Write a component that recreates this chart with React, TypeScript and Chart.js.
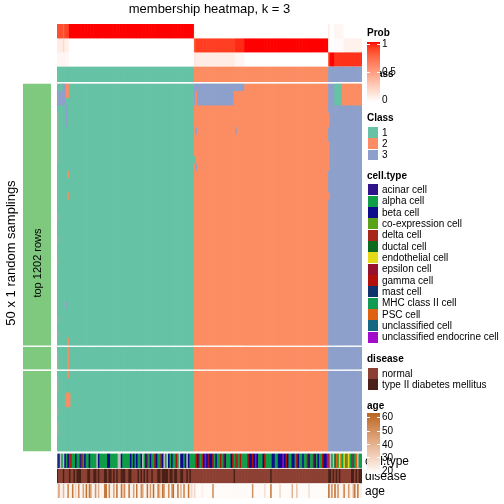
import React, { useEffect, useRef } from "react";
import { Chart, registerables } from "chart.js";

Chart.register(...registerables);

// ---------------- data ----------------
const N_COLS = 200;

const CLASS_NAMES = ["1", "2", "3"];
const CLASS_COLORS = ["#66C2A5", "#FC8D62", "#8DA0CB"];
// consensus class per run of columns: [firstCol, lastCol, class]
const CLASS_RUNS: number[][] = [
  [0, 89, 1],
  [90, 177, 2],
  [178, 199, 3],
];
// membership probabilities per run of columns: [firstCol, lastCol, p1, p2, p3]
const PROB_RUNS: number[][] = [
  [0, 3, 0.85, 0.1, 0.05],
  [4, 4, 0.75, 0.2, 0.05],
  [5, 7, 0.88, 0.08, 0.04],
  [8, 89, 1, 0, 0],
  [90, 90, 0.06, 0.8, 0.14],
  [91, 116, 0, 0.9, 0.1],
  [117, 122, 0, 0.95, 0.05],
  [123, 177, 0, 1, 0],
  [178, 178, 0.1, 0.05, 0.85],
  [179, 181, 0, 0, 1],
  [182, 187, 0.05, 0.02, 0.93],
  [188, 199, 0, 0.07, 0.93],
];
const PROB_TICKS = ["1", "0.5", "0"];

const N_SAMPLINGS = 50;
const SLICE_SIZES = [36, 3, 11];
// class changes of single samplings: [firstRow, lastRow, firstCol, lastCol, class]
const MEMBERSHIP_CHANGES: number[][] = [
  [0, 2, 0, 5, 3],
  [0, 0, 1, 3, 1],
  [0, 1, 6, 7, 2],
  [3, 5, 6, 6, 3],
  [4, 10, 0, 0, 2],
  [12, 12, 7, 7, 2],
  [15, 15, 7, 7, 2],
  [18, 18, 0, 0, 2],
  [21, 21, 0, 0, 2],
  [24, 24, 0, 0, 2],
  [30, 30, 6, 6, 3],
  [32, 32, 0, 0, 2],
  [34, 34, 0, 0, 2],
  [35, 39, 7, 7, 2],
  [37, 38, 0, 0, 2],
  [40, 41, 0, 0, 2],
  [42, 43, 6, 8, 2],
  [44, 44, 0, 0, 2],
  [46, 47, 0, 0, 2],
  [0, 2, 90, 115, 3],
  [0, 0, 116, 122, 3],
  [1, 2, 91, 91, 2],
  [6, 6, 91, 91, 3],
  [6, 6, 117, 117, 3],
  [10, 10, 90, 90, 1],
  [11, 11, 91, 91, 3],
  [0, 2, 182, 186, 1],
  [0, 2, 187, 199, 2],
  [4, 5, 178, 178, 2],
  [8, 11, 178, 178, 2],
  [15, 15, 178, 178, 2],
];

const CELL_TYPE_NAMES = [
  "acinar cell",
  "alpha cell",
  "beta cell",
  "co-expression cell",
  "delta cell",
  "ductal cell",
  "endothelial cell",
  "epsilon cell",
  "gamma cell",
  "mast cell",
  "MHC class II cell",
  "PSC cell",
  "unclassified cell",
  "unclassified endocrine cell",
];
const CELL_TYPE_CODES = "abcdefghijklmn";
const CELL_TYPE_COLORS = [
  "#2F1489",
  "#0F9D48",
  "#0B0B8C",
  "#5BA21B",
  "#A8271B",
  "#0B6B1F",
  "#E5DA17",
  "#97102C",
  "#B3100A",
  "#10336B",
  "#109B52",
  "#DE6212",
  "#156882",
  "#A20DCB",
];
const NA_COLOR = "#BEBEBE";
// one letter per column (x = not available)
const CELL_TYPE_SEQ = [
  "bcxbxcbcee",
  "bbcbbaibcb",
  "bcbbbbxcbb",
  "bbbccbbbbb",
  "xxcbbbbbcb",
  "cbcbbcxbce",
  "bcbbicbbic",
  "xbxcbcbbib",
  "xccbcxcbbb",
  "bicebecnch",
  "ccibcbbibe",
  "cbbbcibeeb",
  "ibbbbiccic",
  "ncbbbcibbb",
  "bccbbcccnc",
  "icbbccbicb",
  "bcbbicbbic",
  "bcbbiccnex",
  "bxflbglbgb",
  "lgbmeblxbb",
].join("");

const DISEASE_NAMES = ["normal", "type II diabetes mellitus"];
const DISEASE_COLORS = ["#8C4033", "#4B2016"];
// one letter per column: n = normal, t = type II diabetes mellitus
const DISEASE_SEQ = [
  "tnnntnnntn",
  "ntntttnnnn",
  "ttnnttntnn",
  "nttnttntnt",
  "nntttnnttn",
  "nnntntntnt",
  "nntnnnttnt",
  "tttnttnttn",
  "nttnntntnn",
  "nnnnnnnnnn",
  "nnnnnnnnnn",
  "nnnnnntnnn",
  "nnnnnnnnnn",
  "nnnnnnnnnn",
  "tnnnnnnnnn",
  "nnnnnnnnnn",
  "nnnnnnnnnn",
  "nnnnnnnntt",
  "ntntntnnnn",
  "nnnttntntt",
].join("");

const AGES = [
  26, 45, 24, 23, 38, 22, 22, 52, 24, 23, 55, 24, 30, 23, 50, 22, 24, 44, 23, 58,
  23, 55, 42, 24, 23, 48, 22, 40, 22, 23, 22, 54, 56, 24, 50, 24, 23, 44, 22, 57,
  23, 22, 55, 32, 50, 23, 22, 56, 24, 23, 44, 22, 55, 23, 22, 50, 42, 22, 23, 56,
  22, 46, 23, 58, 24, 22, 52, 38, 22, 56, 44, 22, 23, 50, 22, 42, 58, 23, 22, 55,
  23, 40, 22, 52, 24, 22, 56, 23, 30, 22, 30, 21, 21, 21, 21, 24, 21, 21, 21, 21,
  21, 21, 50, 21, 21, 21, 21, 21, 21, 21, 21, 21, 21, 21, 21, 21, 21, 21, 21, 21,
  21, 21, 21, 21, 21, 21, 21, 21, 48, 21, 21, 21, 21, 21, 21, 21, 28, 21, 21, 21,
  55, 21, 21, 21, 21, 21, 30, 21, 21, 21, 21, 21, 21, 21, 40, 21, 21, 35, 21, 21,
  21, 21, 21, 21, 21, 28, 21, 21, 21, 21, 21, 21, 21, 21, 21, 21, 21, 21, 58, 24,
  50, 22, 58, 24, 48, 23, 22, 24, 52, 23, 22, 46, 24, 22, 40, 55, 22, 56, 23, 24,
];
const AGE_RANGE = [20, 60];
const AGE_TICKS = [60, 50, 40, 30, 20];
const AGE_HIGH_COLOR = "#B8661E";
const PROB_HIGH_COLOR = "#FF0000";
const SIDE_COLOR = "#7FC97F";

// ---------------- colour helpers (LAB interpolation) ----------------
const WP = [0.95047, 1, 1.08883];
function hexToRgb(hex: string): number[] {
  const h = hex.replace("#", "");
  return [0, 2, 4].map((i) => parseInt(h.slice(i, i + 2), 16));
}
function toLin(c: number) {
  c /= 255;
  return c <= 0.04045 ? c / 12.92 : Math.pow((c + 0.055) / 1.055, 2.4);
}
function fromLin(c: number) {
  const v = c <= 0.0031308 ? 12.92 * c : 1.055 * Math.pow(Math.max(c, 0), 1 / 2.4) - 0.055;
  return Math.round(Math.min(1, Math.max(0, v)) * 255);
}
function rgbToLab(rgb: number[]) {
  const [r, g, b] = rgb.map(toLin);
  const x = (0.4124564 * r + 0.3575761 * g + 0.1804375 * b) / WP[0];
  const y = (0.2126729 * r + 0.7151522 * g + 0.072175 * b) / WP[1];
  const z = (0.0193339 * r + 0.119192 * g + 0.9503041 * b) / WP[2];
  const f = (t: number) => (t > 216 / 24389 ? Math.cbrt(t) : ((24389 / 27) * t + 16) / 116);
  const fx = f(x), fy = f(y), fz = f(z);
  return [116 * fy - 16, 500 * (fx - fy), 200 * (fy - fz)];
}
function labToRgb(lab: number[]) {
  const [L, a, bb] = lab;
  const fy = (L + 16) / 116, fx = fy + a / 500, fz = fy - bb / 200;
  const finv = (t: number) => (t * t * t > 216 / 24389 ? t * t * t : (116 * t - 16) / (24389 / 27));
  const x = finv(fx) * WP[0], y = finv(fy) * WP[1], z = finv(fz) * WP[2];
  const r = 3.2404542 * x - 1.5371385 * y - 0.4985314 * z;
  const g = -0.969266 * x + 1.8760108 * y + 0.041556 * z;
  const b = 0.0556434 * x - 0.2040259 * y + 1.0572252 * z;
  return [fromLin(r), fromLin(g), fromLin(b)];
}
function rampLab(c0: string, c1: string, t: number) {
  const l0 = rgbToLab(hexToRgb(c0));
  const l1 = rgbToLab(hexToRgb(c1));
  const k = Math.min(1, Math.max(0, t));
  const [r, g, b] = labToRgb(l0.map((v, i) => v + (l1[i] - v) * k));
  return `rgb(${r},${g},${b})`;
}
const probColor = (v: number) => rampLab("#FFFFFF", PROB_HIGH_COLOR, v);
const ageColor = (a: number) =>
  rampLab("#FFFFFF", AGE_HIGH_COLOR, (a - AGE_RANGE[0]) / (AGE_RANGE[1] - AGE_RANGE[0]));

// ---------------- layout (in y-units = px below the plot top) ----------------
const PAD = { left: 57, right: 142, top: 24, bottom: 6 };
const Y_MAX = 474;
const PROB_TRACKS = [
  [0, 14],
  [14, 28],
  [28, 42],
];
const CLASS_TRACK = [42.8, 57.7];
const MAIN_TRACK = [60, 427];
const SLICE_GAP = 2.2;
const CELL_TRACK = [430, 443.6];
const DISEASE_TRACK = [445.2, 458.8];
const AGE_TRACK = [460.4, 474];
const ROW_H = (MAIN_TRACK[1] - MAIN_TRACK[0] - SLICE_GAP * (SLICE_SIZES.length - 1)) / N_SAMPLINGS;

function sliceOf(r: number) {
  let acc = 0;
  for (let s = 0; s < SLICE_SIZES.length; s++) {
    acc += SLICE_SIZES[s];
    if (r < acc) return s;
  }
  return SLICE_SIZES.length - 1;
}
const rowTop = (r: number) => MAIN_TRACK[0] + r * ROW_H + sliceOf(r) * SLICE_GAP;

function runsToColumns(runs: number[][]) {
  const out: number[][] = [];
  for (const run of runs) for (let c = run[0]; c <= run[1]; c++) out[c] = run.slice(2);
  return out;
}

function buildMainDatasets() {
  const datasets: any[] = [];
  const probCols = runsToColumns(PROB_RUNS);
  const classCols = runsToColumns(CLASS_RUNS).map((v) => v[0]);

  PROB_TRACKS.forEach((tr, p) => {
    const data: any[] = [];
    const colors: string[] = [];
    for (let c = 0; c < N_COLS; c++) {
      data.push({ x: c + 0.5, y: [tr[0], tr[1]] });
      colors.push(probColor(probCols[c][p]));
    }
    datasets.push({ label: `Prob ${p + 1}`, data, backgroundColor: colors });
  });

  {
    const data: any[] = [];
    const colors: string[] = [];
    for (let c = 0; c < N_COLS; c++) {
      data.push({ x: c + 0.5, y: [CLASS_TRACK[0], CLASS_TRACK[1]] });
      colors.push(CLASS_COLORS[classCols[c] - 1]);
    }
    datasets.push({ label: "Class", data, backgroundColor: colors });
  }

  // membership grid
  const grid: number[][] = [];
  for (let r = 0; r < N_SAMPLINGS; r++) grid.push(classCols.slice());
  for (const [r0, r1, c0, c1, k] of MEMBERSHIP_CHANGES)
    for (let r = r0; r <= r1; r++) for (let c = c0; c <= c1; c++) grid[r][c] = k;

  {
    const data: any[] = [];
    const colors: string[] = [];
    let start = 0;
    SLICE_SIZES.forEach((size) => {
      const end = start + size - 1;
      for (let c = 0; c < N_COLS; c++) {
        let r = start;
        while (r <= end) {
          let r2 = r;
          while (r2 + 1 <= end && grid[r2 + 1][c] === grid[r][c]) r2++;
          data.push({ x: c + 0.5, y: [rowTop(r), rowTop(r2) + ROW_H] });
          colors.push(CLASS_COLORS[grid[r][c] - 1]);
          r = r2 + 1;
        }
      }
      start += size;
    });
    datasets.push({ label: "membership", data, backgroundColor: colors });
  }

  const annot = (label: string, tr: number[], colorOf: (c: number) => string) => {
    const data: any[] = [];
    const colors: string[] = [];
    for (let c = 0; c < N_COLS; c++) {
      data.push({ x: c + 0.5, y: [tr[0], tr[1]] });
      colors.push(colorOf(c));
    }
    datasets.push({ label, data, backgroundColor: colors });
  };
  annot("cell.type", CELL_TYPE_TRACK_FIX(), (c) => {
    const i = CELL_TYPE_CODES.indexOf(CELL_TYPE_SEQ[c]);
    return i < 0 ? NA_COLOR : CELL_TYPE_COLORS[i];
  });
  annot("disease", DISEASE_TRACK, (c) => DISEASE_COLORS[DISEASE_SEQ[c] === "t" ? 1 : 0]);
  annot("age", AGE_TRACK, (c) => ageColor(AGES[c]));
  return datasets;
}
function CELL_TYPE_TRACK_FIX() {
  return CELL_TRACK;
}

const commonScalesY = {
  type: "linear" as const,
  min: 0,
  max: Y_MAX,
  reverse: true,
  display: false,
  grid: { display: false },
};

// ---------------- html text helpers ----------------
const FONT = "'Liberation Sans', Arial, Helvetica, sans-serif";
function Label(props: {
  x: number;
  cy: number;
  size?: number;
  bold?: boolean;
  center?: boolean;
  children: React.ReactNode;
}) {
  const size = props.size ?? 10;
  return (
    <div
      style={{
        position: "absolute",
        left: props.x,
        top: props.cy - size * 0.6,
        fontSize: size,
        lineHeight: `${size * 1.2}px`,
        fontWeight: props.bold ? "bold" : "normal",
        whiteSpace: "nowrap",
        fontFamily: FONT,
        color: "#000",
        transform: props.center ? "translateX(-50%)" : undefined,
      }}
    >
      {props.children}
    </div>
  );
}
function Rotated(props: { x: number; cy: number; size: number; children: React.ReactNode }) {
  return (
    <div
      style={{
        position: "absolute",
        left: props.x,
        top: props.cy,
        fontSize: props.size,
        lineHeight: `${props.size * 1.2}px`,
        whiteSpace: "nowrap",
        fontFamily: FONT,
        color: "#000",
        transform: "translate(-50%,-50%) rotate(-90deg)",
      }}
    >
      {props.children}
    </div>
  );
}
function gradientCss(colorOf: (t: number) => string) {
  const stops: string[] = [];
  for (let i = 0; i <= 20; i++) stops.push(`${colorOf(1 - i / 20)} ${(i / 20) * 100}%`);
  return `linear-gradient(to bottom, ${stops.join(", ")})`;
}
function GradientBox(props: { top: number; height: number; css: string; ticks: number[] }) {
  return (
    <>
      <div
        style={{
          position: "absolute",
          left: 367,
          top: props.top,
          width: 13,
          height: props.height,
          background: props.css,
        }}
      />
      {props.ticks.map((y, i) => (
        <React.Fragment key={i}>
          <div style={{ position: "absolute", left: 367, top: y, width: 3, height: 1, background: "#fff" }} />
          <div style={{ position: "absolute", left: 377, top: y, width: 3, height: 1, background: "#fff" }} />
        </React.Fragment>
      ))}
    </>
  );
}
function DiscreteLegend(props: { title: string; titleCy: number; itemTop: number; names: string[]; colors: string[] }) {
  const step = 11.34;
  return (
    <>
      <Label x={367} cy={props.titleCy} bold>
        {props.title}
      </Label>
      {props.names.map((n, i) => (
        <React.Fragment key={n}>
          <div
            style={{
              position: "absolute",
              left: 367.7,
              top: props.itemTop + i * step,
              width: 10.6,
              height: 10.8,
              background: props.colors[i],
            }}
          />
          <Label x={382} cy={props.itemTop + i * step + 5.6}>
            {n}
          </Label>
        </React.Fragment>
      ))}
    </>
  );
}

export default function App() {
  const mainRef = useRef<HTMLCanvasElement>(null);
  const sideRef = useRef<HTMLCanvasElement>(null);

  useEffect(() => {
    const main = new Chart(mainRef.current as HTMLCanvasElement, {
      type: "bar",
      data: { datasets: buildMainDatasets() },
      options: {
        animation: false,
        responsive: false,
        maintainAspectRatio: false,
        events: [],
        layout: { padding: PAD },
        plugins: { legend: { display: false }, tooltip: { enabled: false }, title: { display: false } },
        datasets: {
          bar: { grouped: false, barPercentage: 1, categoryPercentage: 1, borderWidth: 0 },
        },
        scales: {
          x: {
            type: "linear",
            min: 0,
            max: N_COLS,
            offset: false,
            display: false,
            grid: { display: false },
          },
          y: commonScalesY,
        },
      } as any,
    });

    const sideData: any[] = [];
    let start = 0;
    SLICE_SIZES.forEach((size) => {
      sideData.push({ x: "top 1202 rows", y: [rowTop(start), rowTop(start + size - 1) + ROW_H] });
      start += size;
    });
    const side = new Chart(sideRef.current as HTMLCanvasElement, {
      type: "bar",
      data: {
        labels: ["top 1202 rows"],
        datasets: [{ label: "rows", data: sideData, backgroundColor: SIDE_COLOR }],
      },
      options: {
        animation: false,
        responsive: false,
        maintainAspectRatio: false,
        events: [],
        layout: { padding: { left: 23, right: 453, top: PAD.top, bottom: PAD.bottom } },
        plugins: { legend: { display: false }, tooltip: { enabled: false } },
        datasets: { bar: { barPercentage: 1, categoryPercentage: 1, borderWidth: 0 } },
        scales: {
          x: { type: "category", offset: true, display: false, grid: { display: false } },
          y: commonScalesY,
        },
      } as any,
    });
    return () => {
      main.destroy();
      side.destroy();
    };
  }, []);

  const probCss = gradientCss((t) => probColor(t));
  const ageCss = gradientCss((t) => ageColor(AGE_RANGE[0] + t * (AGE_RANGE[1] - AGE_RANGE[0])));
  const probLabelCy = [44, 72, 100];
  const ageLabelCy = [417, 431, 444.5, 457.5, 470.5];

  return (
    <div
      style={{
        position: "absolute",
        left: 0,
        top: 0,
        width: 504,
        height: 504,
        background: "#fff",
        overflow: "hidden",
        fontFamily: FONT,
      }}
    >
      <canvas ref={sideRef} width={504} height={504} style={{ position: "absolute", left: 0, top: 0, width: 504, height: 504 }} />
      <canvas ref={mainRef} width={504} height={504} style={{ position: "absolute", left: 0, top: 0, width: 504, height: 504 }} />

      <Label x={209.5} cy={9} size={13} center>
        membership heatmap, k = 3
      </Label>
      <Rotated x={11} cy={253} size={13}>
        50 x 1 random samplings
      </Rotated>
      <Rotated x={37.5} cy={263} size={11}>
        top 1202 rows
      </Rotated>

      {/* annotation names */}
      <Label x={365} cy={461} size={12}>cell.type</Label>
      <Label x={365} cy={476} size={12}>disease</Label>
      <Label x={365} cy={491} size={12}>age</Label>

      {/* Prob legend (overlapping the hidden Class title as in the original) */}
      <Label x={367} cy={74} bold>
        Class
      </Label>
      <Label x={367} cy={33} bold>
        Prob
      </Label>
      <GradientBox top={42} height={60} css={probCss} ticks={probLabelCy.map((y) => y - 0.5)} />
      {PROB_TICKS.map((t, i) => (
        <Label key={t} x={382} cy={probLabelCy[i]}>
          {t}
        </Label>
      ))}

      <DiscreteLegend title="Class" titleCy={118} itemTop={127} names={CLASS_NAMES} colors={CLASS_COLORS} />
      <DiscreteLegend title="cell.type" titleCy={176} itemTop={184.4} names={CELL_TYPE_NAMES} colors={CELL_TYPE_COLORS} />
      <DiscreteLegend title="disease" titleCy={358.5} itemTop={368} names={DISEASE_NAMES} colors={DISEASE_COLORS} />

      <Label x={367} cy={405.5} bold>
        age
      </Label>
      <GradientBox top={413} height={61} css={ageCss} ticks={ageLabelCy.map((y) => y - 0.5)} />
      {AGE_TICKS.map((t, i) => (
        <Label key={t} x={382} cy={ageLabelCy[i]}>
          {t}
        </Label>
      ))}
    </div>
  );
}
